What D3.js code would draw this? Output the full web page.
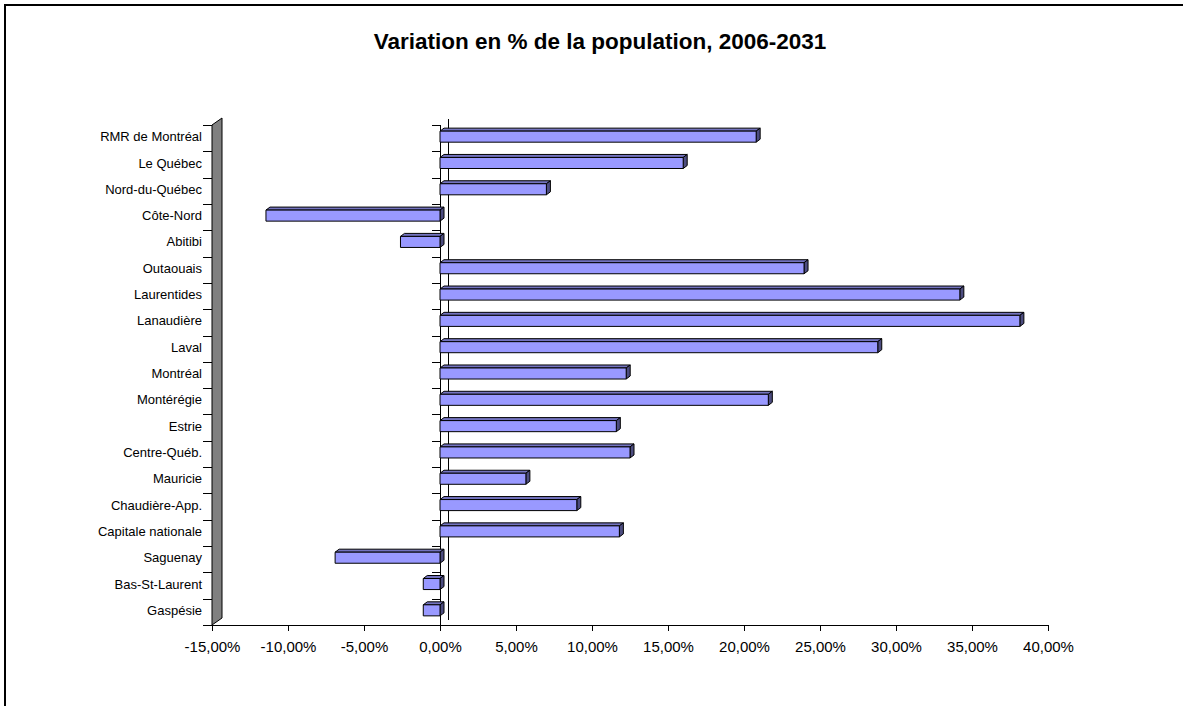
<!DOCTYPE html>
<html>
<head>
<meta charset="utf-8">
<script src="https://cdn.jsdelivr.net/npm/d3@7"></script>
<style>
	body { margin: 0; background: #fff; overflow: hidden; }
	svg { display: block; font-family: 'Liberation Sans', Arial, sans-serif; }
</style>
</head>
<body>
<svg width="1183" height="706"></svg>
<script>
// data, bottom row last
const regions = [
	'RMR de Montréal', 'Le Québec', 'Nord-du-Québec', 'Côte-Nord', 'Abitibi',
	'Outaouais', 'Laurentides', 'Lanaudière', 'Laval', 'Montréal',
	'Montérégie', 'Estrie', 'Centre-Québ.', 'Mauricie', 'Chaudière-App.',
	'Capitale nationale', 'Saguenay', 'Bas-St-Laurent', 'Gaspésie'
]
const variation = [
	20.8, 16.0, 7.0, -11.45, -2.6,
	23.95, 34.2, 38.15, 28.8, 12.25,
	21.6, 11.6, 12.5, 5.65, 9.0,
	11.8, -6.9, -1.1, -1.1
]
const xTicks = [-15, -10, -5, 0, 5, 10, 15, 20, 25, 30, 35, 40]

const rows = regions.map((name, i) => ({ name, value: variation[i] }))

const svg = d3.select('svg')

// outer frame: only the top and left edges fall inside the picture
svg.append('path')
	.attr('d', 'M5,720 L5,5 L1200,5')
	.attr('fill', 'none')
	.attr('stroke', '#000')
	.attr('stroke-width', 2)

svg.append('text')
	.attr('x', 600)
	.attr('y', 49)
	.attr('text-anchor', 'middle')
	.style('font-size', '22.5px')
	.style('font-weight', 'bold')
	.text('Variation en % de la population, 2006-2031')

// plot area
const plotLeft = 212, plotRight = 1048, plotTop = 125, plotBottom = 625
// depth of the 3d box and of the bars
const wallDx = 10, wallDy = 7
const barDx = 4, barDy = 3

const x = d3.scaleLinear().domain([-15, 40]).range([plotLeft, plotRight])
const y = d3.scaleBand().domain(regions).range([plotTop, plotBottom])
	.paddingInner(0.58)
	.paddingOuter(0.29)
const step = y.step()

// side wall
svg.append('path')
	.attr('d', `M${plotLeft},${plotTop} L${plotLeft + wallDx},${plotTop - wallDy} L${plotLeft + wallDx},${plotBottom - wallDy} L${plotLeft},${plotBottom} Z`)
	.attr('fill', '#808080')
	.attr('stroke', '#000')
	.attr('stroke-width', 1)

// back zero line
svg.append('line')
	.attr('x1', x(0) + 8.5).attr('x2', x(0) + 8.5)
	.attr('y1', plotTop - 6).attr('y2', plotBottom - 5)
	.attr('stroke', '#000')

// category boundaries
const bounds = d3.range(regions.length + 1).map(i => plotTop + i * step)

svg.append('g')
	.selectAll('line')
	.data(bounds)
	.join('line')
		.attr('x1', plotLeft - 9).attr('x2', plotLeft)
		.attr('y1', d => Math.round(d) + 0.5).attr('y2', d => Math.round(d) + 0.5)
		.attr('stroke', '#000')

svg.append('g')
	.selectAll('line')
	.data(bounds)
	.join('line')
		.attr('x1', x(0) - 8).attr('x2', x(0))
		.attr('y1', d => Math.round(d) + 0.5).attr('y2', d => Math.round(d) + 0.5)
		.attr('stroke', '#000')

// front zero axis
svg.append('line')
	.attr('x1', x(0) + 0.5).attr('x2', x(0) + 0.5)
	.attr('y1', plotTop).attr('y2', plotBottom)
	.attr('stroke', '#000')

// category labels
svg.append('g')
	.selectAll('text')
	.data(regions)
	.join('text')
		.attr('x', 202)
		.attr('y', d => y(d) - 1.5 + y.bandwidth() / 2)
		.attr('dy', '0.35em')
		.attr('text-anchor', 'end')
		.style('font-size', '13px')
		.text(d => d)

// bars
const bars = svg.append('g')
	.selectAll('g')
	.data(rows)
	.join('g')
		.attr('stroke', '#000')
		.attr('stroke-width', 1)
		.attr('stroke-linejoin', 'round')

const geom = d => {
	const x0 = x(Math.min(0, d.value)), x1 = x(Math.max(0, d.value))
	const y0 = y(d.name) - 1.5, y1 = y0 + y.bandwidth()
	return { x0, x1, y0, y1 }
}

bars.append('path')
	.attr('fill', '#7373bf')
	.attr('d', d => {
		const { x0, x1, y0 } = geom(d)
		return `M${x0},${y0} L${x0 + barDx},${y0 - barDy} L${x1 + barDx},${y0 - barDy} L${x1},${y0} Z`
	})

bars.append('path')
	.attr('fill', '#4d4d80')
	.attr('d', d => {
		const { x1, y0, y1 } = geom(d)
		return `M${x1},${y0} L${x1 + barDx},${y0 - barDy} L${x1 + barDx},${y1 - barDy} L${x1},${y1} Z`
	})

bars.append('rect')
	.attr('fill', '#9999ff')
	.attr('x', d => geom(d).x0)
	.attr('y', d => geom(d).y0)
	.attr('width', d => geom(d).x1 - geom(d).x0)
	.attr('height', y.bandwidth())

// value axis
svg.append('g')
	.attr('transform', `translate(0, ${plotBottom})`)
	.call(d3.axisBottom(x)
		.tickValues(xTicks)
		.tickSize(6)
		.tickSizeOuter(0)
		.tickFormat(d => d3.format('.2f')(d).replace('.', ',').replace('\u2212', '-') + '%')
	)
	.call(g => g.select('.domain').attr('stroke', '#000'))
	.call(g => g.selectAll('.tick line').attr('stroke', '#000'))
	.call(g => g.selectAll('text')
		.attr('y', 27)
		.attr('dy', 0)
		.style('font-size', '15px')
		.style('font-family', "'Liberation Sans', Arial, sans-serif")
		.attr('fill', '#000'))
</script>
</body>
</html>
